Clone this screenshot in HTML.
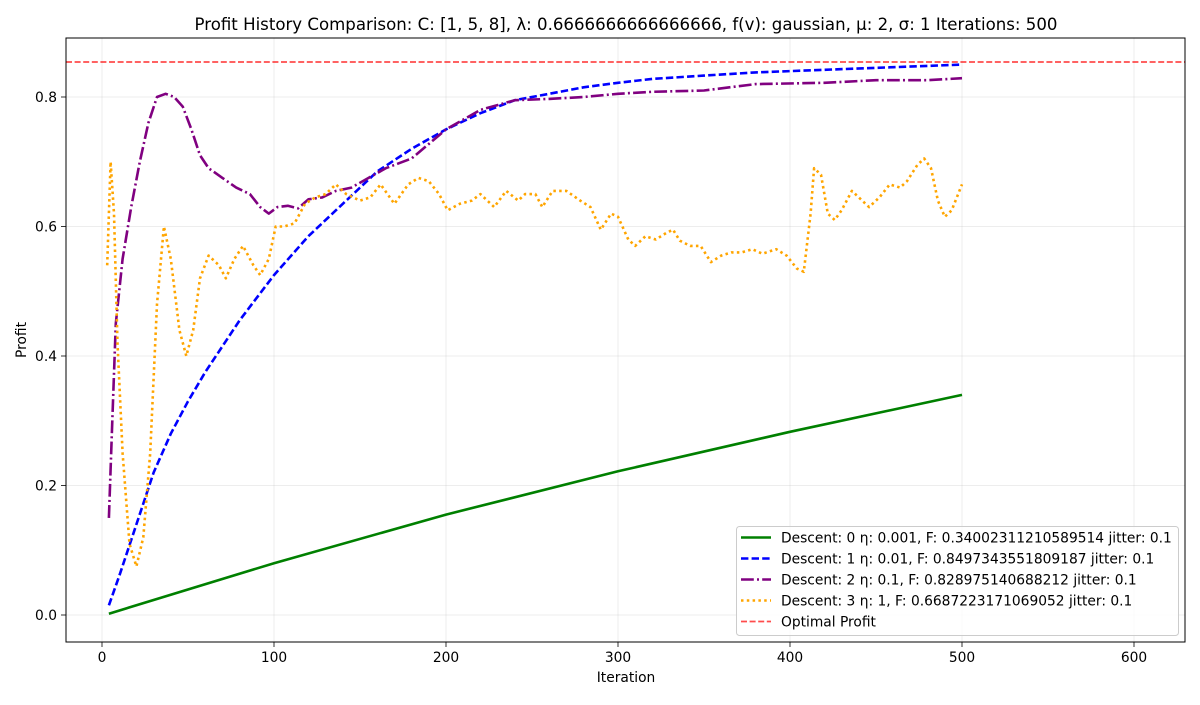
<!DOCTYPE html>
<html><head><meta charset="utf-8"><style>
body{margin:0;background:#fff}
svg{font-family:"DejaVu Sans","Liberation Sans",sans-serif}
</style></head><body>
<svg id="chart" width="1200" height="700" viewBox="0 0 1200 700">
<rect width="1200" height="700" fill="#fff"/>
<g id="grid"></g>
<g id="series"></g>
<rect x="66" y="38" width="1119" height="604" fill="none" stroke="#000" stroke-width="1"/>
<g id="axes"></g>
<text x="626" y="30" text-anchor="middle" font-size="16.6">Profit History Comparison: C: [1, 5, 8], λ: 0.6666666666666666, f(v): gaussian, μ: 2, σ: 1 Iterations: 500</text>
<text x="626" y="682" text-anchor="middle" font-size="13.8">Iteration</text>
<text x="26" y="340" text-anchor="middle" font-size="13.8" transform="rotate(-90 26 340)">Profit</text>
<g id="legend"></g>
</svg>
<script>
const xTicks=[0,100,200,300,400,500,600];
const yTicks=[0.0,0.2,0.4,0.6,0.8];
const optimalProfit=0.854;
const greenX=[4,100,200,300,400,500];
const greenY=[0.002,0.08,0.155,0.222,0.283,0.34];
const blueX=[4,10,20,30,40,50,60,70,80,90,100,120,140,160,180,200,220,240,260,280,300,320,350,380,420,460,500];
const blueY=[0.015,0.06,0.14,0.22,0.28,0.33,0.375,0.415,0.455,0.49,0.525,0.585,0.635,0.685,0.72,0.75,0.775,0.795,0.805,0.815,0.822,0.828,0.833,0.838,0.842,0.846,0.85];
const purpleX=[4,6,8,12,17,22,27,32,37,42,47,52,57,62,70,78,86,92,97,102,108,114,120,128,136,145,155,165,180,200,220,240,260,280,300,320,350,380,420,450,480,500];
const purpleY=[0.15,0.3,0.45,0.55,0.63,0.70,0.76,0.80,0.805,0.80,0.785,0.75,0.71,0.69,0.675,0.66,0.65,0.63,0.62,0.63,0.632,0.628,0.642,0.645,0.655,0.66,0.675,0.69,0.705,0.75,0.78,0.795,0.797,0.80,0.805,0.808,0.81,0.82,0.822,0.826,0.826,0.829];
const orangeX=[3,5,7,9,12,16,20,24,28,32,36,40,45,49,53,57,62,68,72,77,82,88,92,97,101,106,112,118,124,130,136,142,150,156,162,170,178,184,190,196,201,208,215,220,228,235,242,246,252,256,262,270,278,284,290,296,300,306,310,316,322,328,332,336,342,348,354,360,366,372,378,384,392,398,404,408,412,414,418,422,426,430,436,440,446,452,458,464,468,474,478,482,486,490,494,500];
const orangeY=[0.54,0.70,0.62,0.42,0.25,0.11,0.075,0.12,0.25,0.48,0.60,0.55,0.44,0.40,0.44,0.52,0.555,0.54,0.52,0.55,0.57,0.54,0.525,0.55,0.60,0.60,0.605,0.635,0.645,0.65,0.665,0.65,0.64,0.645,0.665,0.635,0.665,0.675,0.67,0.65,0.625,0.635,0.64,0.65,0.63,0.655,0.64,0.65,0.65,0.63,0.655,0.655,0.64,0.63,0.595,0.62,0.615,0.58,0.57,0.585,0.58,0.59,0.595,0.578,0.57,0.57,0.545,0.555,0.56,0.56,0.565,0.558,0.565,0.555,0.535,0.53,0.62,0.69,0.68,0.62,0.61,0.625,0.655,0.645,0.63,0.645,0.665,0.66,0.67,0.695,0.705,0.69,0.64,0.615,0.625,0.665];
const legendLabels=["Descent: 0 η: 0.001, F: 0.34002311210589514 jitter: 0.1","Descent: 1 η: 0.01, F: 0.8497343551809187 jitter: 0.1","Descent: 2 η: 0.1, F: 0.828975140688212 jitter: 0.1","Descent: 3 η: 1, F: 0.6687223171069052 jitter: 0.1","Optimal Profit"];

const NS="http://www.w3.org/2000/svg";
const sx=v=>102+1.72*v;
const sy=v=>615-647.5*v;
function mk(tag,attrs,parent){const e=document.createElementNS(NS,tag);for(const k in attrs)e.setAttribute(k,attrs[k]);parent.appendChild(e);return e;}
const grid=document.getElementById('grid'),axes=document.getElementById('axes'),series=document.getElementById('series'),legend=document.getElementById('legend');
xTicks.forEach(t=>{
  const g=mk('line',{x1:sx(t),x2:sx(t),y1:38,y2:642,stroke:'#b0b0b0','stroke-opacity':0.3,'stroke-width':0.8},grid);
  
  
  const tk=mk('line',{x1:sx(t),x2:sx(t),y1:642,y2:647,stroke:'#000','stroke-width':0.8},axes);
  
  
  const tx=mk('text',{x:sx(t),y:662,'text-anchor':'middle','font-size':13.8},axes);
  tx.textContent=String(t);
  
  
});
yTicks.forEach(t=>{
  const g=mk('line',{x1:66,x2:1185,y1:sy(t),y2:sy(t),stroke:'#b0b0b0','stroke-opacity':0.3,'stroke-width':0.8},grid);
  
  
  const tk=mk('line',{x1:61,x2:66,y1:sy(t),y2:sy(t),stroke:'#000','stroke-width':0.8},axes);
  
  
  const tx=mk('text',{x:57,y:sy(t)+5,'text-anchor':'end','font-size':13.8},axes);
  tx.textContent=t.toFixed(1);
  
  
});
const styles=[
  {c:'green',d:'none',name:'descent-0-line',X:greenX,Y:greenY},
  {c:'blue',d:'7.4 3.2',name:'descent-1-line',X:blueX,Y:blueY},
  {c:'purple',d:'12.8 3.2 2 3.2',name:'descent-2-line',X:purpleX,Y:purpleY},
  {c:'orange',d:'2.5 3.3',name:'descent-3-line',X:orangeX,Y:orangeY}
];
styles.forEach(s=>{
  const pts=s.X.map((x,i)=>sx(x).toFixed(1)+','+sy(s.Y[i]).toFixed(1)).join(' ');
  const p=mk('polyline',{points:pts,fill:'none',stroke:s.c,'stroke-width':2.6,'stroke-dasharray':s.d,'stroke-linejoin':'round'},series);
  
  
});
const opt=mk('line',{x1:66,x2:1185,y1:sy(optimalProfit),y2:sy(optimalProfit),stroke:'red','stroke-opacity':0.7,'stroke-width':1.8,'stroke-dasharray':'6 2.6'},series);


const lb=mk('rect',{x:736.5,y:526.5,width:442,height:109,rx:3,fill:'#fff','fill-opacity':0.8,stroke:'#ccc'},legend);


const lc=['green','blue','purple','orange','red'];
const ld=['none','7.4 3.2','12.8 3.2 2 3.2','2.5 3.3','6 2.6'];
legendLabels.forEach((l,i)=>{
  const y=537.5+21*i;
  const ln=mk('line',{x1:741,x2:771,y1:y,y2:y,stroke:lc[i],'stroke-width':i==4?1.8:2.6,'stroke-dasharray':ld[i],'stroke-opacity':i==4?0.7:1},legend);
  
  
  const t=mk('text',{x:781,y:y+5,'font-size':13.8},legend);
  t.textContent=l;
  
  
});
</script>
</body></html>
